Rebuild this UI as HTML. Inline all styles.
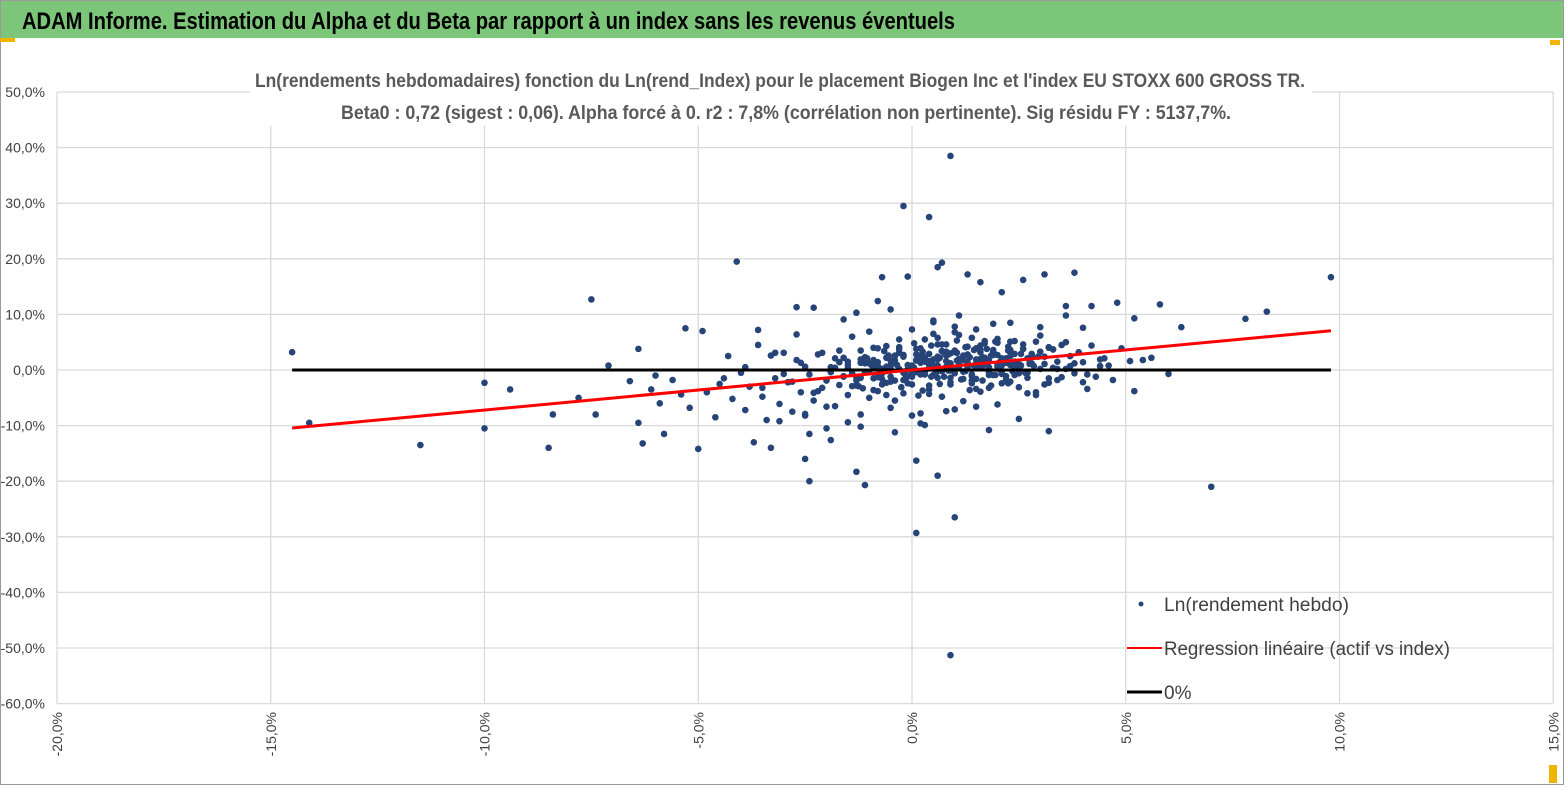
<!DOCTYPE html>
<html><head><meta charset="utf-8"><style>
html,body{margin:0;padding:0;background:#fff;}
body{width:1567px;height:787px;overflow:hidden;font-family:"Liberation Sans",sans-serif;}
</style></head><body>
<svg id="chart" width="1567" height="787" xmlns="http://www.w3.org/2000/svg">
<rect x="0" y="0" width="1567" height="787" fill="#fff"/>
<rect x="0.5" y="0.5" width="1563" height="784" fill="none" stroke="#9a9a9a"/>
<rect x="1" y="1" width="1562" height="37" fill="#7cc67a"/>
<text x="22" y="29" font-size="24" font-weight="bold" fill="#000" textLength="933" lengthAdjust="spacingAndGlyphs">ADAM Informe. Estimation du Alpha et du Beta par rapport à un index sans les revenus éventuels</text>
<rect x="0" y="38" width="15" height="4" fill="#f0b400"/>
<rect x="1550" y="40" width="10" height="5" fill="#f0b400"/>
<rect x="1549" y="765" width="8" height="18" fill="#f0b400"/>
<g id="grid"></g>
<rect x="250" y="62" width="1062" height="64" fill="#fff"/>
<text x="780" y="87" text-anchor="middle" font-size="19" font-weight="bold" fill="#595959" textLength="1050" lengthAdjust="spacingAndGlyphs">Ln(rendements hebdomadaires) fonction du Ln(rend_Index) pour le placement Biogen Inc et l'index EU STOXX 600 GROSS TR.</text>
<text x="786" y="119" text-anchor="middle" font-size="19" font-weight="bold" fill="#595959" textLength="890" lengthAdjust="spacingAndGlyphs">Beta0 : 0,72 (sigest : 0,06). Alpha forcé à 0. r2 : 7,8% (corrélation non pertinente). Sig résidu FY : 5137,7%.</text>
<g id="ticks"></g>
<g id="points"></g>
<g id="lines"></g>
<g>
<circle cx="1141" cy="604" r="2.5" fill="#264478"/>
<text x="1164" y="611" font-size="19" fill="#404040" textLength="185" lengthAdjust="spacingAndGlyphs">Ln(rendement hebdo)</text>
<line x1="1127" y1="648" x2="1162" y2="648" stroke="#ff0000" stroke-width="2"/>
<text x="1164" y="655" font-size="19" fill="#404040" textLength="286" lengthAdjust="spacingAndGlyphs">Regression linéaire (actif vs index)</text>
<line x1="1127" y1="692" x2="1162" y2="692" stroke="#000" stroke-width="3"/>
<text x="1164" y="699" font-size="19" fill="#404040">0%</text>
</g>
</svg>
<script>
const xTicks=[-20,-15,-10,-5,0,5,10,15];
const yTicks=[50,40,30,20,10,0,-10,-20,-30,-40,-50,-60];
const beta=0.72;
const lineRange=[-14.5,9.8];
const indexReturns=[-14.5,-14.1,-11.5,-10,-10,-9.4,-8.5,-8.4,-7.5,-7.4,-7.8,-7.1,-6.4,-6.4,-6.3,-6,-5.8,-5.3,-5,-4.9,-4.1,-3.7,-3.3,-2.5,-2.4,-1.3,-1.1,-0.2,0.1,0.1,0.4,0.6,0.9,0.9,1,0.7,0.6,3.1,3.8,3.2,2.6,5.8,6.3,7,7.8,8.3,9.8,5.6,5.2,4.6,6,5.2,4,3.6,-2.7,-2.3,-1.3,-0.1,-0.7,1.3,2.1,1.6,
-6.6,-6.1,-5.9,-5.6,-5.4,-5.2,-4.8,-4.6,-4.5,-4.3,-4.2,-4,-3.9,-3.8,-3.6,-3.5,-3.4,-3.2,-3.1,-3,-2.9,-2.8,-2.7,-2.6,-2.5,-2.4,-2.3,-2.2,-2.1,-2,-1.9,-1.8,-1.7,-1.6,-1.5,-1.4,-1.3,-1.2,-1.1,-1,-0.9,-0.8,-0.7,-0.6,-0.5,-0.4,-0.3,-0.2,-0.1,0,0.1,0.2,0.3,0.4,0.5,0.6,0.7,0.8,0.9,1,1.1,1.2,1.3,1.4,1.5,1.6,1.7,1.8,1.9,2,2.1,2.2,2.3,2.4,2.5,2.6,2.7,2.8,2.9,3,3.1,3.2,3.3,3.4,3.5,3.6,3.7,3.8,3.9,4,4.1,4.2,4.4,4.5,4.7,4.9,5.1,5.4,
-4.4,-3.9,-3.5,-3.3,-3,-2.8,-2.6,-2.3,-2.1,-1.9,-1.7,-1.5,-1.3,-1.1,-0.9,-0.7,-0.5,-0.3,-0.1,0.1,0.3,0.5,0.7,0.9,1.1,1.3,1.5,1.7,1.9,2.1,2.3,2.5,2.7,2.9,3.1,3.3,3.5,3.8,4.1,4.3,
-3.2,-2.9,-2.5,-2.2,-1.8,-1.6,-1.4,-1.2,-1,-0.8,-0.6,-0.4,-0.2,0,0.2,0.4,0.6,0.8,1,1.2,1.4,1.6,1.8,2,2.2,2.4,2.6,2.8,3,3.2,3.4,3.7,
-2,-1.7,-1.4,-1.1,-0.8,-0.5,-0.2,0.1,0.4,0.7,1,1.3,1.6,1.9,2.2,2.5,2.8,3.1,-1.5,-1.2,-0.9,-0.6,-0.3,0,0.3,0.6,0.9,1.2,1.5,1.8,2.1,2.4,2.7,
-1,-0.7,-0.4,-0.1,0.2,0.5,0.8,1.1,1.4,1.7,2,2.3,-0.8,-0.5,-0.2,0.1,0.4,0.7,1,1.3,1.6,1.9,2.2,-0.6,-0.3,0,0.3,0.6,0.9,1.2,1.5,1.8,2.1,
-1.2,-0.9,-0.6,-0.3,0,0.3,0.6,0.9,1.2,1.5,1.8,2.1,2.4,-0.4,0,0.4,0.8,1.2,1.6,2,0.2,0.6,1,1.4,1.8,
-3.6,-3.1,-2.7,-2.4,-1.9,-1.6,-1.2,-0.8,-0.4,0.2,0.5,0.8,1.1,1.5,1.9,2.3,2.7,3.2,3.6,4.2,4.8,
-0.5,0.5,1.5,2.5,-1.5,-2.5,0,1,2,3,-1,-2,0.3,0.7,1.1,1.7,2.3,
-1.4,-1.1,-0.85,-0.6,-0.35,-0.1,0.15,0.35,0.55,0.75,0.95,1.15,1.35,1.55,1.75,1.95,2.15,2.35,2.55,2.75,
-1.3,-1.05,-0.75,-0.45,-0.25,0.05,0.25,0.45,0.65,0.85,1.05,1.25,1.45,1.65,1.85,2.05,2.25,2.45,2.65,2.95,
-1.2,-0.95,-0.7,-0.5,-0.2,0,0.2,0.4,0.6,0.8,1,1.2,1.4,1.6,1.8,2,2.2,2.4,2.6,2.85,
-1.6,-1.25,-0.9,-0.55,-0.15,0.1,0.3,0.5,0.7,0.9,1.1,1.3,1.5,1.7,1.9,2.1,2.3,2.5,2.8,3.2,
-0.9,-0.65,-0.4,-0.15,0.05,0.25,0.45,0.65,0.85,1.05,1.25,1.45,1.65,1.85,2.05,2.25,2.5,2.7,3,3.4,
-1.8,-1.5,-1.15,-0.8,-0.5,-0.2,0.15,0.45,0.75,1.05,1.35,1.65,1.95,2.25,2.55,2.9,3.3,3.6,4,4.4];
const assetReturns=[3.2,-9.5,-13.5,-2.3,-10.5,-3.5,-14,-8,12.7,-8,-5,0.8,3.8,-9.5,-13.2,-1,-11.5,7.5,-14.2,7,19.5,-13,-14,-16,-20,-18.3,-20.7,29.5,-29.3,-16.3,27.5,-19,38.5,-51.3,-26.5,19.3,18.5,17.2,17.5,-11,16.2,11.8,7.7,-21,9.2,10.5,16.7,2.2,-3.8,0.8,-0.7,9.3,7.6,11.5,11.3,11.2,10.3,16.8,16.7,17.2,14,15.8,
-2,-3.5,-6,-1.8,-4.4,-6.8,-4,-8.5,-2.5,2.5,-5.2,-0.5,-7.2,-3,4.5,-4.8,-9,-1.5,-6.1,3.1,-2.2,-7.5,1.8,-4,-8.2,-0.8,-5.5,2.8,-3.2,-10.5,0.5,-6.5,3.5,-1.2,-4.5,6,-2.8,-8,1.2,-5,4,-3.8,-0.6,2.2,-6.8,-1.9,5.5,-4.2,0.9,-2.6,3.8,-7.8,1.5,-3.5,6.5,-0.2,-4.8,2.6,-1.4,7.8,0.3,-5.6,4.2,-2.4,1.9,-3.9,5.2,-0.9,3.3,-6.2,2,-1.7,8.5,0.8,-3.1,4.6,-0.4,2.9,-4.5,6.2,1.1,-2.3,3.7,0.2,-1.3,5,2.5,-0.6,3.2,1.4,-3.4,4.4,0.7,2.1,-1.8,3.9,1.6,
1.8,-1.5,0.5,-3.2,2.6,-0.7,-2.1,1.3,-4.1,3.1,-0.4,-2.7,0.9,-1.9,2.3,-3.6,0.2,-1.2,4.1,-2.4,1.7,5.5,-0.9,3.4,-2.6,6.3,0.6,-1.6,4.8,2.7,-0.3,3.6,1.1,-1.4,5.1,2.4,0.4,4.5,1.2,-0.8,
-1.2,3.1,-2.2,0.6,-3.8,2.1,-1.1,-2.9,3.5,-0.3,1.4,-4.5,2.6,-1.8,0.8,3.9,-2.8,1.9,4.6,-0.6,2.3,-1.9,3.2,0.5,5.6,1.3,-0.9,3.8,2.7,0.2,4.1,1.5,
0.7,-1.9,1.4,-0.6,2.2,-1.3,0.9,2.7,-0.4,1.6,3.4,0.4,2.8,1.1,3.6,2.1,0.3,2.6,-2.6,0.3,-1.4,1.8,-0.2,3.1,0.6,-0.8,2.4,1.2,-0.3,3.9,1.7,0.8,2.9,
-0.5,1.2,-1.6,2.5,0.1,-0.8,1.9,3.3,0.4,-1.1,2.2,1,-2.1,0.7,1.7,-0.5,2.8,0.9,-0.2,3.5,1.4,2,-0.9,1.5,4.3,0.2,-1.2,2.3,0.8,3,1.9,
0.4,-0.4,2.1,1.3,-1.5,0.6,3.7,-0.7,1.8,4.6,-0.1,2.6,1.2,-3.2,-2.4,5.2,-5.5,7.3,-4.3,1.6,-1.6,3.6,0.6,2.4,5.8,
-7.1,5.8,-10.8,7.2,-9.2,6.4,-11.5,-12.6,9.1,-10.2,12.4,-11.2,-9.6,8.6,-7.4,9.8,-6.6,8.3,5.1,-4.2,4,
9.8,11.5,12.1,10.9,8.9,7.3,-8.8,-9.4,-7.9,-8.2,6.8,4.9,7.7,6.9,-6.6,-9.9,0.1,1.3,2.2,0.9,-0.6,
-0.4,1.1,-2.3,0.9,-1.1,2.6,1.5,-0.6,3.1,0.2,-1.7,2.3,0.6,3.8,-0.9,1.6,-0.2,2.9,1.1,-1.3,
2.1,-0.7,1.2,-3.1,0.4,3.3,-1.2,2.2,-0.1,1.7,4.1,0.8,-1.9,2.6,0.1,3.5,1.4,-0.5,2.4,1.9,
0.9,-2.6,0.2,2.4,-0.4,1.3,2.9,-1.4,0.6,3.2,1.8,-0.8,4.4,0.3,2.7,-1.1,1.5,3.8,0.7,2.2,
-2.9,0.5,2.6,-1.6,1.8,-0.3,0.9,4.6,-2.2,2,0.4,-3.4,1.3,3,-0.7,2.5,0.1,1.2,-1.5,0.6,
3.4,1.7,-0.9,4.8,-3.7,1.1,-2.5,2.8,5.3,-0.2,3.6,0.7,-2.8,1.4,4.2,-0.6,2.1,3.3,-1.8,0.4,
1.5,-3.3,3.9,-2.1,2.7,-4.6,4.4,-1.2,3.1,-3.6,2.3,5.1,-2.4,0.8,-4,3.7,0.2,-2.2,1.9,2.6];
const X0=912,XS=42.75,Y0=370,YS=5.56;
const sx=v=>X0+v*XS, sy=v=>Y0-v*YS;
const NS="http://www.w3.org/2000/svg";
function mk(tag,attrs,parent){const e=document.createElementNS(NS,tag);for(const k in attrs)e.setAttribute(k,attrs[k]);parent.appendChild(e);return e;}
const grid=document.getElementById('grid'),ticks=document.getElementById('ticks'),pts=document.getElementById('points'),lines=document.getElementById('lines');
const fmt=v=>v.toFixed(1).replace('.',',')+'%';
yTicks.forEach(t=>{
  const l=mk('line',{x1:sx(-20),x2:sx(15),y1:sy(t),y2:sy(t),stroke:'#d9d9d9','stroke-width':1.3},grid);
  
  
  const tx=mk('text',{x:45,y:sy(t)+5,'text-anchor':'end','font-size':14,fill:'#404040'},ticks);
  
  
  tx.textContent=fmt(t);
});
xTicks.forEach(t=>{
  const l=mk('line',{x1:sx(t),x2:sx(t),y1:sy(50),y2:sy(-60),stroke:'#d9d9d9','stroke-width':1.3},grid);
  
  
  const tx=mk('text',{x:0,y:0,'text-anchor':'end','font-size':14,fill:'#404040',transform:`translate(${sx(t)+5},712) rotate(-90)`},ticks);
  
  
  tx.textContent=fmt(t);
});
indexReturns.forEach((x,i)=>{
  const y=assetReturns[i]; if(y===undefined)return;
  const c=mk('circle',{cx:sx(x),cy:sy(y),r:3.3,fill:'#264478'},pts);
  
  
});
const zl=mk('line',{x1:sx(lineRange[0]),x2:sx(lineRange[1]),y1:sy(0),y2:sy(0),stroke:'#000','stroke-width':3},lines);


const rl=mk('line',{x1:sx(lineRange[0]),x2:sx(lineRange[1]),y1:sy(beta*lineRange[0]),y2:sy(beta*lineRange[1]),stroke:'#ff0000','stroke-width':3},lines);


</script>
</body></html>
